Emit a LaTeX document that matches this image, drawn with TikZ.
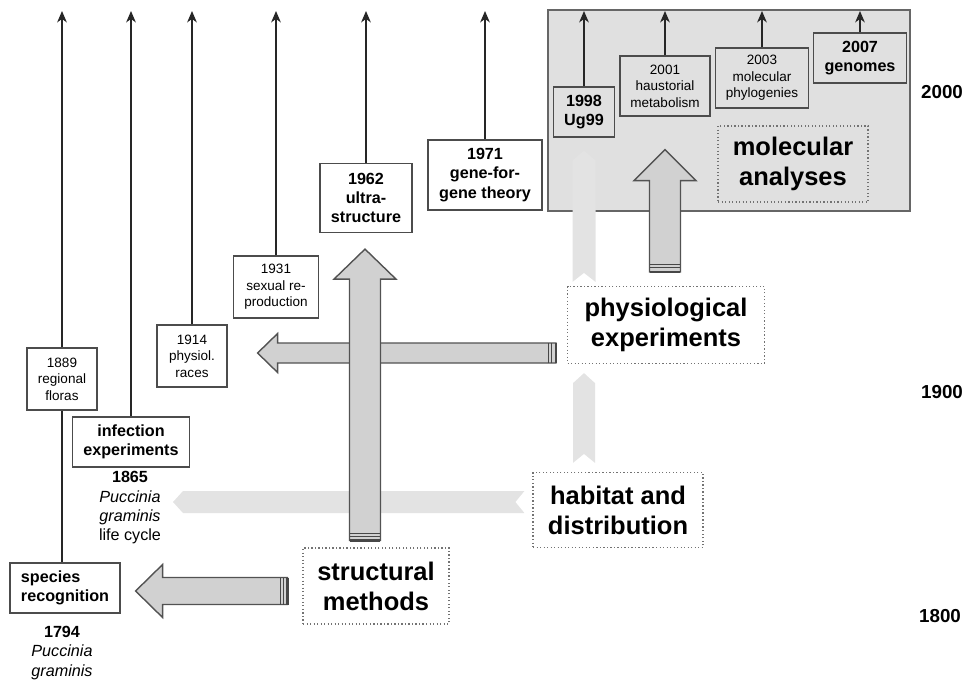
\documentclass[tikz,border=0pt]{standalone}
\usepackage{fontspec}
\setmainfont{Liberation Sans}
\usetikzlibrary{arrows.meta,calc}

\newcommand\pxu{0.569pt}
% tail, tip, shaft half width, head half width, head length (px)
\newcommand\fatarrow[5]{%
  \coordinate (hb) at ($(#2)!#5*\pxu!(#1)$);
  \filldraw[bigarrow] ($(#1)!#3*\pxu!90:(#2)$) -- ($(hb)!#3*\pxu!90:(#2)$)
    -- ($(hb)!#4*\pxu!90:(#2)$) -- (#2) -- ($(hb)!#4*\pxu!-90:(#2)$)
    -- ($(hb)!#3*\pxu!-90:(#2)$) -- ($(#1)!#3*\pxu!-90:(#2)$) -- cycle;
  \draw[tailband, line width=1.3pt] ($(#1)!#3*\pxu!90:(#2)$) -- ($(#1)!#3*\pxu!-90:(#2)$);
  \foreach \d in {4,7} {
    \coordinate (tb) at ($(#1)!\d*\pxu!(#2)$);
    \draw[tailband] ($(tb)!#3*\pxu!90:(#2)$) -- ($(tb)!#3*\pxu!-90:(#2)$);
  }
}
% tail, tip, half width (px)
\newcommand\ribbon[3]{%
  \coordinate (rb) at ($(#2)!10*\pxu!(#1)$);
  \coordinate (rn) at ($(#1)!9*\pxu!(#2)$);
  \fill[flow] ($(#1)!#3*\pxu!90:(#2)$) -- ($(rb)!#3*\pxu!90:(#2)$) -- (#2)
    -- ($(rb)!#3*\pxu!-90:(#2)$) -- ($(#1)!#3*\pxu!-90:(#2)$) -- (rn) -- cycle;
}

\begin{document}
\begin{tikzpicture}[
    x=0.02cm, y=-0.02cm,
    event/.style={draw=black!70, line width=0.7pt, align=center, inner sep=1pt, font=\fontsize{7.7}{9.3}\selectfont},
    keyevent/.style={event, font=\bfseries\fontsize{9.2}{11}\selectfont},
    method/.style={draw=black!55, line width=0.7pt, dash pattern=on 0.7pt off 1.3pt, align=center, font=\bfseries\fontsize{14.5}{17}\selectfont},
    century/.style={font=\bfseries\fontsize{10.7}{12}\selectfont},
    timeline/.style={-{Stealth[length=6.5pt,width=5.5pt,inset=2pt]}, draw=black!85, line width=0.7pt},
    bigarrow/.style={fill=black!18, draw=black!68, line width=0.8pt, miter limit=20},
    tailband/.style={draw=black!72, line width=0.6pt},
    flow/.style={fill=black!11}
]
  \useasboundingbox (0,0) rectangle (968,680);
  \coordinate (top) at (0,11);

  % molecular panel
  \fill[black!12, draw=black!60, line width=0.7pt] (548,10) rectangle (910,211);

  % events
  \node[event, minimum width=1.4cm, minimum height=1.24cm] (floras) at (62,379) {1889\\regional\\floras};
  \node[event, minimum width=1.4cm, minimum height=1.24cm] (races) at (192,356) {1914\\physiol.\\races};
  \node[event, minimum width=1.7cm, minimum height=1.24cm] (sexual) at (276,287) {1931\\sexual re-\\production};
  \node[keyevent, minimum width=1.84cm, minimum height=1.38cm] (ultra) at (366,198) {1962\\ultra-\\structure};
  \node[keyevent, minimum width=2.28cm, minimum height=1.4cm] (genefor) at (485,175) {1971\\gene-for-\\gene theory};
  \node[keyevent, minimum width=1.22cm, minimum height=1cm] (ug99) at (584,112) {1998\\Ug99};
  \node[event, minimum width=1.8cm, minimum height=1.2cm] (haust) at (665,86) {2001\\haustorial\\metabolism};
  \node[event, minimum width=1.86cm, minimum height=1.2cm] (phylo) at (762,78) {2003\\molecular\\phylogenies};
  \node[keyevent, minimum width=1.86cm, minimum height=1cm] (genomes) at (860,58) {2007\\genomes};
  \node[keyevent, minimum width=2.34cm, minimum height=1cm] (infection) at (131,442) {infection\\experiments};
  \node[keyevent, align=left, minimum width=2.2cm, minimum height=1cm] (species) at (65,588) {species\\recognition};

  \node[font=\fontsize{9.2}{11}\selectfont, align=center] (lifecycle) at (130,508) {\textbf{1865}\\\textit{Puccinia}\\\textit{graminis}\\life cycle};
  \node[font=\fontsize{9.2}{11}\selectfont, align=center] (firstname) at (62,653) {\textbf{1794}\\\textit{Puccinia}\\\textit{graminis}};

  % methods
  \node[method, minimum width=2.92cm, minimum height=1.52cm] (structural) at (376,586) {structural\\methods};
  \node[method, minimum width=3.4cm, minimum height=1.5cm] (habitat) at (618,510) {habitat and\\distribution};
  \node[method, minimum width=3.94cm, minimum height=1.54cm] (physexp) at (666,325) {physiological\\experiments};
  \node[method, minimum width=3cm, minimum height=1.52cm] (molecular) at (793,164) {molecular\\analyses};

  % Labels
  \node[century] (y2000) at (942,92) {2000};
  \node[century] (y1900) at (942,392) {1900};
  \node[century] (y1800) at (940,616) {1800};

  % time lines
  \foreach \n in {floras,infection,races,sexual,ultra,genefor,ug99,haust,phylo,genomes}
    \draw[timeline] (\n.north) -- (\n.north |- top);
  \draw[draw=black!85, line width=0.7pt] (floras.south) -- (floras.south |- species.north);

  % habitat flows
  \coordinate (r1h) at (173,502);
  \ribbon{$(habitat.west)+(-8,-8)$}{r1h}{11}
  \ribbon{$(habitat.north)+(-34,-9)$}{$(physexp.south)+(-82,9)$}{11}
  \ribbon{$(physexp.north)+(-82,-4)$}{$(ug99.south)+(0,13)$}{11.5}

  % method arrows
  \fatarrow{$(physexp.west)+(-11,28)$}{$(races.east)+(30,-3)$}{10}{19.5}{20}
  \fatarrow{$(structural.west)+(-15,5)$}{$(species.east)+(15,3)$}{13.5}{26.5}{27}
  \fatarrow{$(structural.north)+(-11,-7)$}{$(ultra.south)+(-1,16)$}{15.5}{31}{30}
  \fatarrow{$(physexp.north)+(-1,-14)$}{$(haust.south)+(0,33)$}{15.5}{31}{31}
\end{tikzpicture}
\end{document}
